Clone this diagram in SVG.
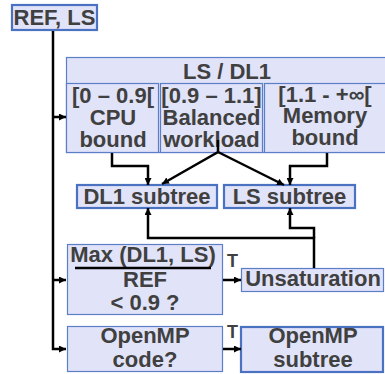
<svg xmlns="http://www.w3.org/2000/svg" width="385" height="374" viewBox="0 0 385 374">
<defs>
<marker id="ah" viewBox="0 0 10 10" refX="10" refY="5" markerWidth="7" markerHeight="7" markerUnits="userSpaceOnUse" orient="auto">
<path d="M0,0 L10,5 L0,10 z" fill="#000"/>
</marker>
</defs>
<style>
.box{fill:#e1e3f9;stroke:#5b7ec6;stroke-width:1.2}
.bold{fill:#e1e3f9;stroke:#4a72c0;stroke-width:2.2}
.t{font-family:"Liberation Sans",Arial,sans-serif;font-weight:bold;font-size:22px;fill:#404040;text-anchor:middle}
.s{font-family:"Liberation Sans",Arial,sans-serif;font-weight:bold;font-size:18px;fill:#404040}
.c{fill:none;stroke:#000;stroke-width:2.5}
</style>
<rect width="385" height="374" fill="#fff"/>
<g id="ref">
<rect class="bold" x="12" y="5" width="85" height="25"/>
<text class="t" x="54.5" y="25">REF, LS</text>
</g>
<g id="lsdl1">
<rect class="box" x="66.5" y="57.5" width="330" height="95"/>
<text class="t" x="227" y="79">LS / DL1</text>
</g>
<g id="cpu">
<rect class="box" x="66.5" y="83.5" width="92" height="69"/>
<text class="t" x="113" y="103">[0 – 0.9[</text>
<text class="t" x="113" y="125">CPU</text>
<text class="t" x="113" y="147">bound</text>
</g>
<g id="balanced">
<rect class="box" x="160.5" y="83.5" width="102" height="69"/>
<text class="t" x="211.5" y="103">[0.9 – 1.1]</text>
<text class="t" x="211.5" y="125">Balanced</text>
<text class="t" x="211.5" y="147">workload</text>
</g>
<g id="memory">
<rect class="box" x="264.5" y="83.5" width="132" height="69"/>
<text class="t" x="325" y="102">[1.1 - +∞[</text>
<text class="t" x="325" y="123">Memory</text>
<text class="t" x="325" y="145">bound</text>
</g>
<g id="dl1sub">
<rect class="bold" x="77" y="185" width="140" height="23"/>
<text class="t" x="147" y="204">DL1 subtree</text>
</g>
<g id="lssub">
<rect class="bold" x="224" y="185" width="131" height="23"/>
<text class="t" x="289.5" y="204">LS subtree</text>
</g>
<g id="max">
<rect class="box" x="67.5" y="244.5" width="155" height="70"/>
<text class="t" x="143" y="262">Max (DL1, LS)</text>
<line x1="75" y1="268" x2="211" y2="268" stroke="#000" stroke-width="2.5"/>
<text class="t" x="145" y="287">REF</text>
<text class="t" x="145" y="310">&lt; 0.9 ?</text>
</g>
<g id="unsat">
<rect class="box" x="241.5" y="268.5" width="142" height="23"/>
<text class="t" x="313" y="286">Unsaturation</text>
</g>
<g id="ompcode">
<rect class="box" x="67.5" y="326.5" width="155" height="45"/>
<text class="t" x="145" y="343">OpenMP</text>
<text class="t" x="145" y="367">code?</text>
</g>
<g id="ompsub">
<rect class="bold" x="241" y="327" width="142" height="45"/>
<text class="t" x="313" y="343">OpenMP</text>
<text class="t" x="313" y="367">subtree</text>
</g>
<g id="connectors">
<path class="c" d="M53,31 V349 H66" marker-end="url(#ah)"/>
<path class="c" d="M53,117 H66" marker-end="url(#ah)"/>
<path class="c" d="M53,280 H66" marker-end="url(#ah)"/>
<path class="c" d="M112,153 V166 H148 V185" marker-end="url(#ah)"/>
<path class="c" d="M218,140 V152 L162,184" marker-end="url(#ah)"/>
<path class="c" d="M218,152 L284,185" marker-end="url(#ah)"/>
<path class="c" d="M327,153 V166 H290 V185" marker-end="url(#ah)"/>
<path class="c" d="M314,268 V238 H148 V208" marker-end="url(#ah)"/>
<path class="c" d="M314,238 V228 H290 V208" marker-end="url(#ah)"/>
<path class="c" d="M223,280 H241" marker-end="url(#ah)"/>
<path class="c" d="M223,349 H241" marker-end="url(#ah)"/>
<text class="s" x="227" y="267">T</text>
<text class="s" x="227" y="338">T</text>
</g>
</svg>
